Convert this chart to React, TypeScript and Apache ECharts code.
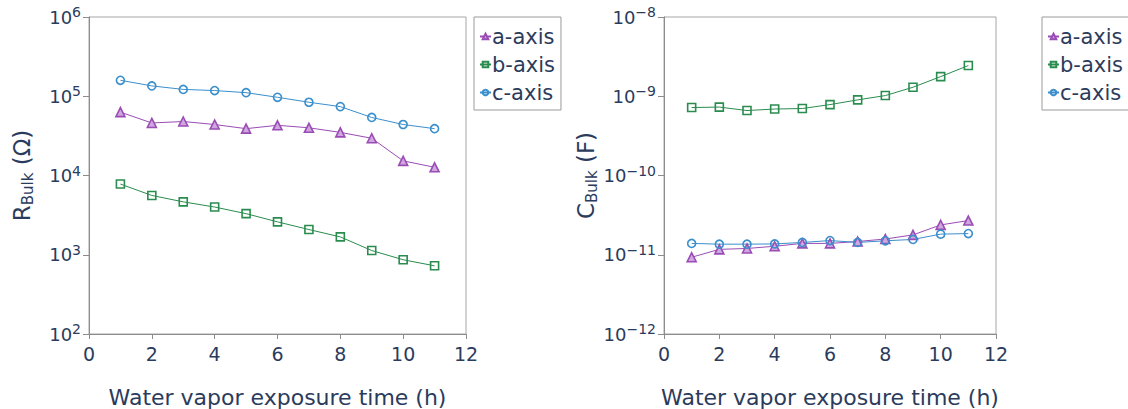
import React, { useEffect, useRef } from "react";
import * as echarts from "echarts";

const hours = [1, 2, 3, 4, 5, 6, 7, 8, 9, 10, 11];
const seriesNames = ["a-axis", "b-axis", "c-axis"];

// Left panel: R_Bulk (Ω)
const rA = [63000, 46000, 48000, 44000, 39000, 43000, 40000, 35000, 29500, 15300, 12700];
const rB = [7800, 5600, 4650, 4000, 3300, 2600, 2080, 1680, 1130, 865, 725];
const rC = [159000, 135000, 122000, 118000, 111000, 97000, 84000, 74000, 54000, 44000, 39000];

// Right panel: C_Bulk (F)
const cA = [9.3e-12, 1.17e-11, 1.2e-11, 1.28e-11, 1.39e-11, 1.39e-11, 1.47e-11, 1.58e-11, 1.78e-11, 2.38e-11, 2.7e-11];
const cB = [7.2e-10, 7.3e-10, 6.6e-10, 6.9e-10, 7.0e-10, 7.85e-10, 9.0e-10, 1.02e-9, 1.3e-9, 1.77e-9, 2.44e-9];
const cC = [1.39e-11, 1.36e-11, 1.36e-11, 1.37e-11, 1.43e-11, 1.51e-11, 1.43e-11, 1.5e-11, 1.56e-11, 1.82e-11, 1.85e-11];

const xTitle = "Water vapor exposure time (h)";

const FONT = '"DejaVu Sans", Verdana, sans-serif';
const TEXT = "#2b3b5c";
const AXIS = "#8c8c8c";
const PURPLE = "#9a4cb5";
const GREEN = "#2a8c4e";
const BLUE = "#3a8fcc";

const supFmt = (v: number) => {
  const e = Math.round(Math.log10(v));
  const s = e < 0 ? "\u2212" + Math.abs(e) : String(e);
  return "{b|10}{s|" + s + "}";
};

const labelRich = {
  b: { fontSize: 18, fontFamily: FONT, color: TEXT, lineHeight: 24 },
  s: { fontSize: 14, fontFamily: FONT, color: TEXT, lineHeight: 14, verticalAlign: "top" as const },
};

const makeX = (gridIndex: number) => ({
  type: "value" as const,
  gridIndex,
  min: 0,
  max: 12,
  interval: 2,
  axisLine: { show: true, lineStyle: { color: AXIS, width: 1 } },
  axisTick: { show: true, length: 5, inside: false, lineStyle: { color: AXIS } },
  splitLine: { show: false },
  axisLabel: { fontSize: 19, fontFamily: FONT, color: TEXT, margin: 10 },
  name: xTitle,
  nameLocation: "middle" as const,
  nameGap: 52,
  nameTextStyle: { fontSize: 22, fontFamily: FONT, color: TEXT },
});

const makeY = (gridIndex: number, min: number, max: number, lead: string, unit: string, gap: number) => ({
  type: "log" as const,
  logBase: 10,
  gridIndex,
  min,
  max,
  axisLine: { show: true, lineStyle: { color: AXIS, width: 1 } },
  axisTick: { show: true, length: 6, inside: false, lineStyle: { color: AXIS } },
  splitLine: { show: false },
  minorTick: { show: false },
  axisLabel: { formatter: supFmt, rich: labelRich, margin: 8 },
  name: "{r|" + lead + "}{s|Bulk}{r| (" + unit + ")}",
  nameLocation: "middle" as const,
  nameGap: gap,
  nameRotate: 90,
  nameTextStyle: {
    rich: {
      r: { fontSize: 23, fontFamily: FONT, color: TEXT, lineHeight: 27 },
      s: { fontSize: 15, fontFamily: FONT, color: TEXT, lineHeight: 15, verticalAlign: "bottom" as const },
    },
  },
});

const styles = [
  { color: PURPLE, symbol: "triangle", size: 9, fill: "#cfa6e0" },
  { color: GREEN, symbol: "rect", size: 8, fill: "rgba(255,255,255,0)" },
  { color: BLUE, symbol: "circle", size: 8, fill: "rgba(255,255,255,0)" },
];

const makeSeries = (idx: number, data: number[], axisIndex: number) => {
  const st = styles[idx];
  return {
    type: "line" as const,
    name: seriesNames[idx],
    xAxisIndex: axisIndex,
    yAxisIndex: axisIndex,
    data: hours.map((h, i) => [h, data[i]]),
    symbol: st.symbol,
    symbolSize: st.size,
    showSymbol: true,
    lineStyle: { color: st.color, width: 1 },
    itemStyle: { color: st.fill, borderColor: st.color, borderWidth: 1.6 },
    emphasis: { disabled: true },
  };
};

const makeLegend = (left: number) => ({
  left,
  top: 17,
  orient: "vertical" as const,
  data: seriesNames,
  borderColor: "#9a9a9a",
  borderWidth: 1,
  padding: [9, 6, 7, 5],
  itemGap: 7,
  itemWidth: 11,
  itemHeight: 7,
  textStyle: { fontSize: 21, fontFamily: FONT, color: TEXT, padding: [0, 0, 0, -4] },
  selectedMode: false,
});

export default function App() {
  const ref = useRef<HTMLDivElement>(null);
  useEffect(() => {
    if (!ref.current) return;
    const chart = echarts.init(ref.current, null, { renderer: "svg" });
    chart.setOption({
      animation: false,
      textStyle: { fontFamily: FONT },
      grid: [
        { left: 89, top: 17, width: 377, height: 317, show: true, borderColor: "#a6a6a6", borderWidth: 1, outerBoundsMode: "none", containLabel: false },
        { left: 664, top: 17, width: 332, height: 317, show: true, borderColor: "#a6a6a6", borderWidth: 1, outerBoundsMode: "none", containLabel: false },
      ],
      xAxis: [makeX(0), makeX(1)],
      yAxis: [makeY(0, 100, 1e6, "R", "\u03A9", 54), makeY(1, 1e-12, 1e-8, "C", "F", 64)],
      legend: [makeLegend(474), makeLegend(1042)],
      series: [
        makeSeries(0, rA, 0),
        makeSeries(1, rB, 0),
        makeSeries(2, rC, 0),
        makeSeries(0, cA, 1),
        makeSeries(1, cB, 1),
        makeSeries(2, cC, 1),
      ],
    });
    return () => chart.dispose();
  }, []);
  return (
    <div
      ref={ref}
      style={{ position: "fixed", left: 0, top: 0, width: 1128, height: 409, background: "#fff" }}
    />
  );
}
